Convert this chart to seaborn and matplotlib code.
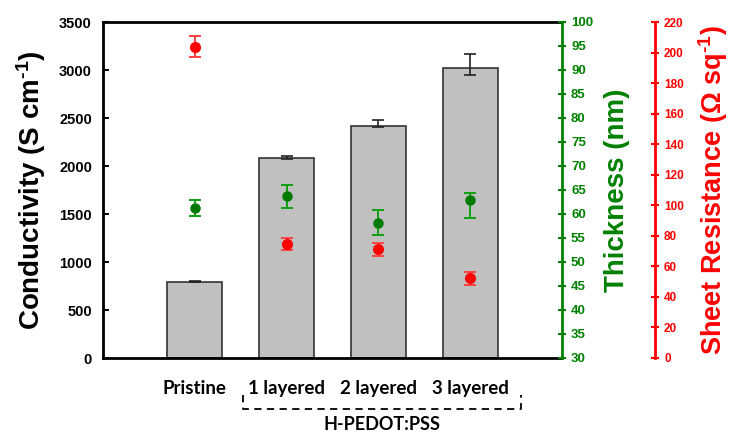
import matplotlib
matplotlib.use("Agg")
import matplotlib.pyplot as plt
import matplotlib.transforms as mtransforms
import seaborn as sns
import pandas as pd
import numpy as np

categories = ["Pristine", "1 layered", "2 layered", "3 layered"]
conductivity = [795, 2088, 2418, 3022]
cond_err_lo = [8, 15, 15, 75]
cond_err_hi = [8, 15, 65, 140]
thickness = [61.2, 63.7, 58.2, 62.9]
thick_err_lo = [1.7, 2.5, 2.6, 3.7]
thick_err_hi = [1.7, 2.4, 2.6, 1.4]
sheet_res = [203.9, 74.7, 71.2, 52.2]
sheet_err = [6.7, 3.7, 4.4, 4.2]
group_label = "H-PEDOT:PSS"

sns.set_style("ticks")
plt.rcParams["font.family"] = ["Liberation Sans", "DejaVu Sans"]
plt.rcParams["text.color"] = "black"
plt.rcParams["axes.labelcolor"] = "black"
plt.rcParams["xtick.color"] = "black"
plt.rcParams["ytick.color"] = "black"
plt.rcParams["mathtext.fontset"] = "custom"
plt.rcParams["mathtext.rm"] = "Liberation Sans:bold"
plt.rcParams["mathtext.bf"] = "Liberation Sans:bold"
plt.rcParams["mathtext.it"] = "Liberation Sans:bold:italic"

fig = plt.figure(figsize=(7.32, 4.34), dpi=100)
fig.subplots_adjust(left=103/732, right=562/732, bottom=1-358/434, top=1-22/434)
ax = fig.add_subplot(111)

df = pd.DataFrame({"cat": categories, "cond": conductivity})
sns.barplot(data=df, x="cat", y="cond", color="#c0c0c0", saturation=1,
            edgecolor="#333333", linewidth=1.2, width=0.6, errorbar=None, ax=ax, zorder=2)
xs = np.arange(len(categories))
ax.errorbar(xs, conductivity, yerr=[cond_err_lo, cond_err_hi], fmt="none",
            ecolor="#222222", elinewidth=1.2, capsize=4, capthick=1.2, zorder=3)
ax.set_xlim(-1, 4)
ax.set_ylim(0, 3500)
ax.set_yticks(np.arange(0, 3501, 500))
ax.set_ylabel("Conductivity (S cm$^{\\text{-1}}$)", fontsize=20, fontweight="bold", labelpad=8)
ax.set_xlabel("")
ax.tick_params(axis="y", direction="in", length=4, width=1.5, labelsize=10.5, pad=8)
for lab in ax.get_yticklabels():
    lab.set_fontweight("bold")
ax.tick_params(axis="x", length=0, pad=16)
ax.set_xticks(xs)
ax.set_xticklabels(categories, fontsize=13.5, fontweight="bold", family=["Lato", "DejaVu Sans"])
for s in ["left", "top", "bottom"]:
    ax.spines[s].set_linewidth(2)
    ax.spines[s].set_color("black")

# Thickness axis
ax2 = ax.twinx()
ax2.errorbar(xs, thickness, yerr=[thick_err_lo, thick_err_hi], fmt="o", color="#007a00",
             markersize=6.5, ecolor="#10a010", elinewidth=1.4, capsize=4, capthick=1.4, zorder=4)
ax2.set_ylim(30, 100)
ax2.set_yticks(np.arange(30, 101, 5))
ax2.spines["right"].set_color("#008000")
ax2.spines["right"].set_linewidth(2)
for s in ["left", "top", "bottom"]:
    ax2.spines[s].set_visible(False)
ax2.tick_params(axis="y", colors="#008000", direction="inout", length=6, width=1.5, labelsize=9.5)
for lab in ax2.get_yticklabels():
    lab.set_fontweight("bold")
ax2.set_ylabel("Thickness (nm)", fontsize=20, fontweight="bold", color="#008000", labelpad=8)

# Sheet resistance axis
ax3 = ax.twinx()
ax3.spines["right"].set_position(("axes", (655-103)/(562-103)))
ax3.errorbar(xs, sheet_res, yerr=sheet_err, fmt="o", color="#ff0000",
             markersize=7, ecolor="#ff4040", elinewidth=1.4, capsize=4, capthick=1.4, zorder=4)
ax3.set_ylim(0, 220)
ax3.set_yticks(np.arange(0, 221, 20))
ax3.spines["right"].set_color("#ff0000")
ax3.spines["right"].set_linewidth(2)
for s in ["left", "top", "bottom"]:
    ax3.spines[s].set_visible(False)
ax3.tick_params(axis="y", colors="#ff0000", direction="inout", length=6, width=1.5, labelsize=8.5)
for lab in ax3.get_yticklabels():
    lab.set_fontweight("bold")
ax3.set_ylabel("Sheet Resistance (\u03a9 sq$^{\\text{-1}}$)", fontsize=19.5, fontweight="bold",
               color="#ff0000", labelpad=9)

# bracket grouping the layered samples
trans = mtransforms.blended_transform_factory(ax.transData, fig.transFigure)
x0, x1 = 0.52, 3.55
yb = 1 - 409/434
ytop = 1 - 395/434
ax.plot([x0, x0, x1, x1], [ytop, yb, yb, ytop], transform=trans, color="black",
        lw=1.3, ls=(0, (4, 3)), clip_on=False)
ax.text((x0 + x1) / 2, 1 - 425/434, group_label, transform=trans, ha="center", va="center",
        fontsize=13, fontweight="bold", family=["Lato", "DejaVu Sans"])

fig.savefig("out.png", dpi=100)
